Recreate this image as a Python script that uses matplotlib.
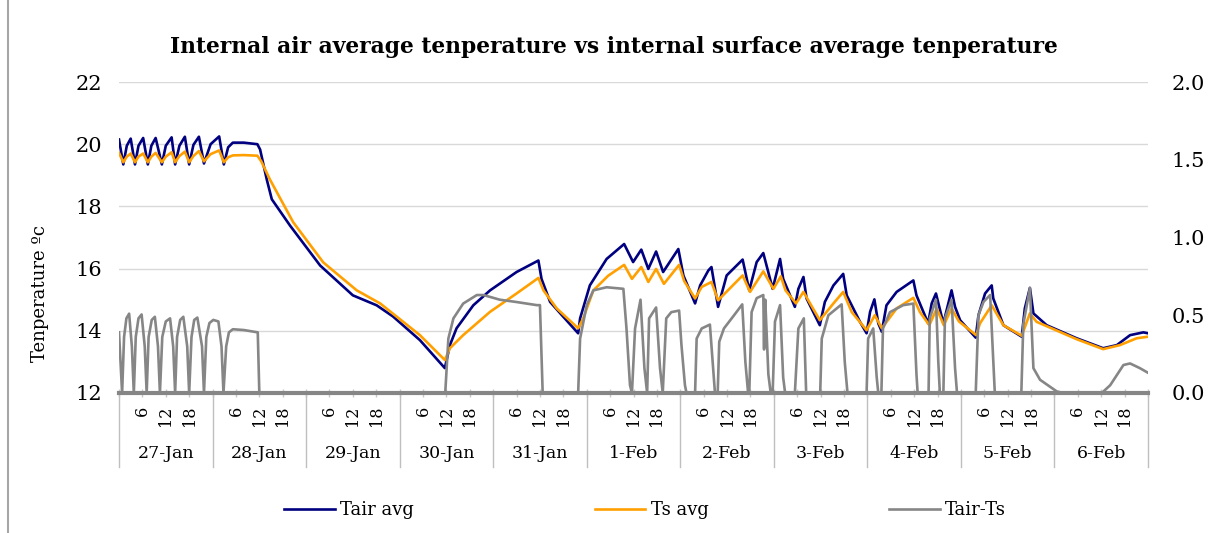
import matplotlib
matplotlib.use("Agg")
import matplotlib.pyplot as plt
from matplotlib.lines import Line2D
from matplotlib.ticker import FormatStrFormatter

plt.rcParams["font.family"] = ["DejaVu Serif"]

# hours since 27-Jan 00:00
hours_air = [0.0, 1.1, 2.0, 3.0, 4.1, 5.0, 6.2, 7.4, 8.3, 9.4,
             11.0, 12.0, 13.5, 14.4, 15.5, 16.9, 18.0, 19.1, 20.5, 21.8,
             23.5, 25.7, 26.9, 28.0, 29.2, 32.0, 35.5, 36.2, 37.9, 39.2,
             43.9, 51.6, 60.0, 66.1, 70.3, 77.2, 83.6, 84.9, 86.6, 90.9,
             95.2, 102.0, 107.6, 108.4, 110.6, 114.0, 117.8, 118.3, 120.8, 125.1,
             129.6, 131.9, 134.0, 135.8, 137.8, 139.6, 143.5, 144.8, 147.8, 149.1,
             151.2, 152.0, 153.7, 155.9, 160.0, 161.7, 163.6, 165.3, 167.7, 169.6,
             170.4, 173.4, 174.3, 175.6, 176.4, 179.8, 181.1, 183.3, 185.8, 186.7,
             190.1, 191.8, 192.7, 193.8, 194.8, 195.7, 196.9, 199.5, 203.8, 204.6,
             207.6, 208.5, 209.6, 211.5, 213.6, 214.5, 215.8, 219.8, 220.5, 222.2,
             223.9, 224.3, 226.9, 231.6, 232.4, 233.7, 234.6, 238.0, 245.7, 252.5,
             256.0, 259.4, 262.8, 264.0]
t_air = [20.15, 19.35, 19.95, 20.18, 19.35, 19.95, 20.2, 19.35, 19.95, 20.2,
         19.35, 19.95, 20.22, 19.35, 19.95, 20.24, 19.35, 19.98, 20.24, 19.38,
         20.0, 20.25, 19.35, 19.9, 20.05, 20.05, 20.0, 19.83, 18.87, 18.23,
         17.38, 16.1, 15.14, 14.82, 14.46, 13.7, 12.8, 13.54, 14.08, 14.82,
         15.3, 15.89, 16.26, 15.67, 14.93, 14.45, 13.92, 14.4, 15.46, 16.31,
         16.79, 16.21, 16.61, 15.99, 16.55, 15.89, 16.63, 15.78, 14.88, 15.46,
         15.94, 16.05, 14.77, 15.78, 16.29, 15.3, 16.21, 16.5, 15.35, 16.31,
         15.67, 14.77, 15.35, 15.73, 15.04, 14.18, 14.93, 15.46, 15.83, 15.14,
         14.29, 13.92, 14.61, 15.01, 14.24, 13.97, 14.82, 15.25, 15.62, 15.14,
         14.24, 14.88, 15.2, 14.24, 15.3, 14.77, 14.34, 13.78, 14.5, 15.2,
         15.46, 15.04, 14.18, 13.81, 14.72, 15.38, 14.56, 14.18, 13.76, 13.44,
         13.54, 13.86, 13.95, 13.92]

hours_surf = [0.0, 1.1, 2.0, 3.0, 4.1, 5.0, 6.2, 7.4, 8.3, 9.4,
              11.0, 12.0, 13.5, 14.4, 15.5, 16.9, 18.0, 19.1, 20.5, 21.8,
              23.5, 25.7, 26.9, 28.0, 29.2, 32.0, 35.5, 36.5, 38.7, 44.7,
              52.4, 61.0, 67.0, 77.2, 83.6, 84.9, 88.3, 95.2, 102.0, 107.6,
              108.9, 112.3, 117.8, 119.1, 121.7, 125.5, 129.6, 131.6, 134.0, 135.8,
              137.8, 139.8, 143.7, 145.0, 147.8, 149.5, 152.0, 153.7, 160.0, 161.9,
              165.3, 167.9, 169.8, 171.0, 173.7, 175.6, 179.8, 183.3, 185.8, 188.0,
              191.8, 193.9, 195.7, 199.5, 203.8, 205.5, 207.9, 209.8, 211.6, 213.6,
              215.5, 219.9, 220.9, 223.9, 226.9, 231.6, 233.7, 235.4, 245.7, 252.5,
              256.8, 261.1, 264.0]
t_surf = [19.72, 19.42, 19.6, 19.7, 19.42, 19.6, 19.7, 19.42, 19.6, 19.72,
          19.42, 19.6, 19.74, 19.42, 19.62, 19.76, 19.42, 19.62, 19.78, 19.45,
          19.68, 19.8, 19.42, 19.58, 19.64, 19.65, 19.63, 19.45, 18.87, 17.49,
          16.2, 15.3, 14.88, 13.86, 13.06, 13.44, 13.86, 14.61, 15.2, 15.7,
          15.3, 14.72, 14.08, 14.4, 15.3, 15.77, 16.12, 15.67, 16.05, 15.57,
          15.99, 15.51, 16.12, 15.6, 15.04, 15.41, 15.57, 14.98, 15.78, 15.25,
          15.91, 15.35, 15.75, 15.3, 14.88, 15.25, 14.34, 14.88, 15.25, 14.6,
          14.02, 14.5, 14.08, 14.72, 15.06, 14.6, 14.18, 14.72, 14.18, 14.72,
          14.3, 13.86, 14.24, 14.82, 14.18, 13.84, 14.56, 14.29, 13.73, 13.41,
          13.54, 13.76, 13.81]

hours_diff = [0.0, 0.8, 1.3, 1.9, 2.6, 3.3, 3.8, 4.3, 5.0, 5.8,
              6.6, 7.1, 7.6, 8.4, 9.2, 10.0, 10.5, 11.1, 12.0, 13.1,
              13.9, 14.4, 14.9, 15.7, 16.5, 17.5, 18.0, 18.6, 19.3, 20.1,
              21.3, 21.8, 22.4, 23.2, 24.2, 25.5, 26.3, 26.8, 27.5, 28.2,
              29.2, 32.0, 35.6, 36.0, 83.7, 84.5, 85.8, 88.3, 91.8, 93.5,
              97.7, 102.0, 107.2, 108.0, 108.7, 117.8, 118.3, 120.0, 121.7, 125.1,
              129.4, 130.2, 131.1, 131.6, 132.4, 133.8, 134.8, 135.5, 136.0, 137.8,
              138.8, 139.5, 140.4, 141.7, 143.7, 144.3, 145.2, 145.6, 147.8, 148.2,
              149.5, 151.6, 152.3, 152.9, 153.6, 154.0, 155.2, 157.8, 159.9, 160.7,
              161.4, 161.7, 162.3, 163.6, 165.3, 165.5, 165.6, 165.7, 165.8, 166.6,
              167.2, 167.7, 168.3, 169.6, 170.4, 170.9, 173.4, 174.3, 175.7, 176.3,
              179.9, 180.3, 182.0, 185.4, 186.2, 186.9, 191.8, 192.2, 193.5, 194.4,
              194.8, 195.6, 196.0, 197.8, 201.2, 203.8, 204.6, 204.9, 207.7, 208.0,
              209.6, 210.2, 210.6, 211.5, 211.9, 213.6, 214.5, 215.0, 219.8, 220.5,
              221.8, 223.5, 224.3, 224.7, 231.5, 232.0, 233.7, 234.6, 236.3, 240.6,
              244.0, 251.7, 254.3, 257.7, 259.4, 261.9, 264.0]
t_diff = [0.39, 0.0, 0.36, 0.48, 0.51, 0.3, 0.0, 0.36, 0.48, 0.505,
          0.3, 0.0, 0.36, 0.47, 0.49, 0.3, 0.0, 0.36, 0.46, 0.48,
          0.3, 0.0, 0.36, 0.47, 0.49, 0.3, 0.0, 0.36, 0.47, 0.485,
          0.3, 0.0, 0.36, 0.45, 0.47, 0.46, 0.3, 0.0, 0.3, 0.39,
          0.41, 0.405, 0.39, 0.0, 0.0, 0.35, 0.48, 0.575, 0.63, 0.63,
          0.6, 0.585, 0.565, 0.565, 0.0, 0.0, 0.35, 0.565, 0.66, 0.68,
          0.67, 0.415, 0.05, 0.0, 0.415, 0.6, 0.16, 0.0, 0.48, 0.55,
          0.16, 0.0, 0.48, 0.52, 0.53, 0.31, 0.05, 0.0, 0.0, 0.35,
          0.415, 0.44, 0.2, 0.0, 0.0, 0.33, 0.415, 0.5, 0.57, 0.2,
          0.0, 0.0, 0.52, 0.61, 0.63, 0.28, 0.55, 0.3, 0.6, 0.12,
          0.0, 0.0, 0.46, 0.565, 0.1, 0.0, 0.0, 0.415, 0.48, 0.0,
          0.0, 0.35, 0.5, 0.57, 0.2, 0.0, 0.0, 0.35, 0.415, 0.1,
          0.0, 0.0, 0.415, 0.52, 0.565, 0.575, 0.12, 0.0, 0.0, 0.48,
          0.6, 0.2, 0.0, 0.0, 0.48, 0.6, 0.16, 0.0, 0.0, 0.5,
          0.586, 0.63, 0.2, 0.0, 0.0, 0.44, 0.675, 0.16, 0.085, 0.01,
          -0.01, -0.01, 0.05, 0.18, 0.19, 0.16, 0.13]

days = ["27-Jan", "28-Jan", "29-Jan", "30-Jan", "31-Jan", "1-Feb",
        "2-Feb", "3-Feb", "4-Feb", "5-Feb", "6-Feb"]
hour_labels = ["", "6", "12", "18"]
left_ticks = [12, 14, 16, 18, 20, 22]
right_ticks = [0.0, 0.5, 1.0, 1.5, 2.0]
series_names = ["Tair avg", "Ts avg", "Tair-Ts"]

title = "Internal air average tenperature vs internal surface average tenperature"

fig = plt.figure(figsize=(12.15, 5.33), dpi=100)
ax = fig.add_axes([119 / 1215, 1 - 393 / 533, 1029 / 1215, 311 / 533])
ax2 = ax.twinx()

l1, = ax.plot(hours_air, t_air, color="#000080", lw=1.9, zorder=3)
l2, = ax.plot(hours_surf, t_surf, color="#FFA000", lw=1.9, zorder=3)
l3, = ax2.plot(hours_diff, t_diff, color="#868686", lw=1.9)

ax.set_xlim(0, 24 * len(days))
ax.set_ylim(12, 22)
ax2.set_ylim(0, 2)

ax.set_yticks(left_ticks)
ax2.set_yticks(right_ticks)
ax2.yaxis.set_major_formatter(FormatStrFormatter("%.1f"))
ax.yaxis.grid(True, color="#d9d9d9", lw=1)
ax.set_axisbelow(True)

for a in (ax, ax2):
    for s in ("top", "left", "right"):
        a.spines[s].set_visible(False)
ax2.spines["bottom"].set_visible(False)
ax.spines["bottom"].set_color("#868686")
ax.spines["bottom"].set_linewidth(3)

ax.tick_params(axis="y", length=0, labelsize=15, pad=12)
ax2.tick_params(axis="y", length=0, labelsize=15, pad=17)

# hour ticks every 6 h, labelled 6/12/18 inside each day
xt = [d * 24 + k * 6 for d in range(len(days)) for k in range(4)] + [24 * len(days)]
xl = [hour_labels[k] for d in range(len(days)) for k in range(4)] + [""]
ax.set_xticks(xt)
ax.set_xticklabels(xl, rotation=90, fontsize=11.5)
ax.tick_params(axis="x", direction="inout", length=6, width=1,
               color="#c8c8c8", pad=6)

# day boxes below the hour labels
for i, day in enumerate(days):
    ax.text(i * 24 + 12, -0.193, day, transform=ax.get_xaxis_transform(),
            ha="center", va="center", fontsize=12.5)
for i in range(len(days) + 1):
    ax.plot([i * 24, i * 24], [0, -0.238], transform=ax.get_xaxis_transform(),
            color="#bfbfbf", lw=1, clip_on=False)

fig.text(0.505, 0.912, title, ha="center", va="center",
         fontsize=15.7, fontweight="bold")
fig.text(40 / 1215, 0.45, "Tenperature ºc", rotation=90,
         ha="center", va="center", fontsize=13)

fig.legend([l1, l2, l3], series_names, loc="center",
           bbox_to_anchor=(0.531, 0.043), ncol=3, frameon=False,
           fontsize=13, handlelength=2.8, handletextpad=0.3,
           columnspacing=10)

fig.add_artist(Line2D([8 / 1215, 8 / 1215], [0, 1], color="#a6a6a6", lw=1.5))

fig.savefig("out.png", dpi=100)
